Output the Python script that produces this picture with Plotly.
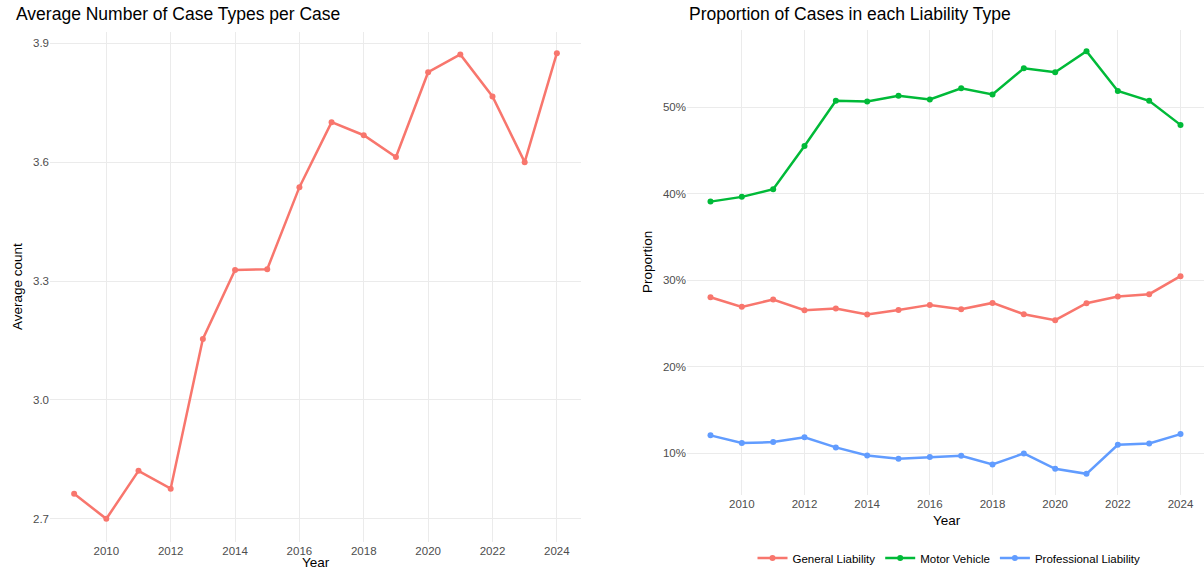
import plotly.graph_objects as go

years = list(range(2009, 2025))

avg_case_types = [2.763, 2.700, 2.821, 2.776, 3.154, 3.328, 3.330, 3.537,
                  3.701, 3.668, 3.613, 3.827, 3.872, 3.766, 3.600, 3.875]

general_liability = [0.2804, 0.2692, 0.2777, 0.2653, 0.2672, 0.2603, 0.2657, 0.2715,
                     0.2665, 0.2738, 0.2607, 0.2538, 0.2735, 0.2811, 0.2839, 0.3047]
motor_vehicle = [0.3910, 0.3965, 0.4053, 0.4553, 0.5077, 0.5070, 0.5135, 0.5093,
                 0.5221, 0.5151, 0.5453, 0.5407, 0.5651, 0.5190, 0.5077, 0.4798]
professional_liability = [0.1205, 0.1116, 0.1127, 0.1182, 0.1066, 0.0973, 0.0934, 0.0954,
                          0.0969, 0.0869, 0.0996, 0.0818, 0.0760, 0.1097, 0.1112, 0.1220]

series = [
    ("General Liability", general_liability, "#F8766D"),
    ("Motor Vehicle", motor_vehicle, "#00BA38"),
    ("Professional Liability", professional_liability, "#619CFF"),
]

W, H = 1204, 569
font = "Liberation Sans, Arial, sans-serif"

fig = go.Figure()

fig.add_trace(go.Scatter(
    x=years, y=avg_case_types, mode="lines+markers",
    line=dict(color="#F8766D", width=2.5), marker=dict(size=6),
    showlegend=False, xaxis="x", yaxis="y",
))

for name, vals, col in series:
    fig.add_trace(go.Scatter(
        x=years, y=vals, mode="lines+markers", name=name,
        line=dict(color=col, width=2.5), marker=dict(size=6),
        xaxis="x2", yaxis="y2",
    ))

grid = "#EBEBEB"
tickfont = dict(family=font, size=11.5, color="#4D4D4D")
xcommon = dict(range=[2008.25, 2024.75], tickvals=list(range(2010, 2025, 2)),
               showgrid=True, gridcolor=grid, gridwidth=1, zeroline=False,
               showline=False, ticks="", tickfont=tickfont, automargin=False)
ycommon = dict(showgrid=True, gridcolor=grid, zeroline=False, ticks="",
               tickfont=tickfont, automargin=False)

fig.update_layout(
    width=W, height=H,
    margin=dict(l=0, r=0, t=0, b=0, autoexpand=False),
    paper_bgcolor="white", plot_bgcolor="white",
    font=dict(family=font, color="black"),
    xaxis=dict(domain=[50 / W, 581 / W], anchor="y", **xcommon),
    yaxis=dict(domain=[1 - 542 / H, 1 - 32 / H], anchor="x",
               range=[2.6415, 3.9285], tickvals=[2.7, 3.0, 3.3, 3.6, 3.9],
               tickformat=".1f", **ycommon),
    xaxis2=dict(domain=[687 / W, 1.0], anchor="y2", **xcommon),
    yaxis2=dict(domain=[1 - 495 / H, 1 - 30 / H], anchor="x2",
                range=[0.0515, 0.5896], tickvals=[0.1, 0.2, 0.3, 0.4, 0.5],
                tickformat=".0%", **ycommon),
    legend=dict(orientation="h", x=949 / W, xanchor="center",
                y=1 - 558 / H, yanchor="middle", itemwidth=30,
                font=dict(family=font, size=11.5, color="black")),
)

def px_note(text, x, y, size, angle=0, xanchor="center"):
    fig.add_annotation(text=text, xref="paper", yref="paper",
                       x=x / W, y=1 - y / H, xanchor=xanchor, yanchor="middle",
                       showarrow=False, textangle=angle,
                       font=dict(family=font, size=size, color="black"))

px_note("Average Number of Case Types per Case", 14, 14, 17.5, xanchor="left")
px_note("Proportion of Cases in each Liability Type", 687, 14, 17.5, xanchor="left")
px_note("Average count", 17, 287, 13.5, angle=-90)
px_note("Proportion", 647, 262, 13.5, angle=-90)
px_note("Year", 316, 562, 13.5)
px_note("Year", 947, 520, 13.5)

# page body has a default 8px margin; drop it so the figure fills the window
fig.write_html("out.html", config={"displayModeBar": False},
               post_script="document.body.style.margin='0';")
